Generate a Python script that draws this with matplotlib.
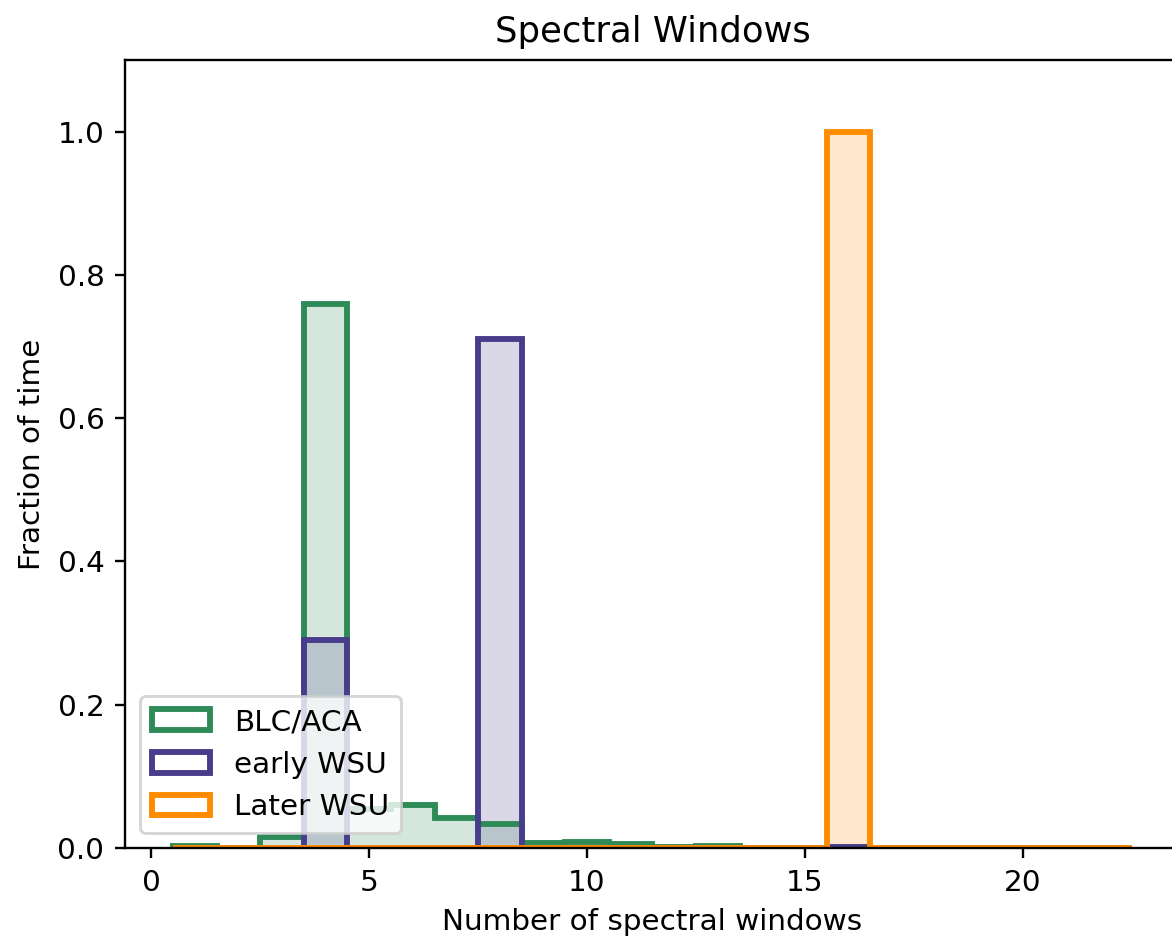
import numpy as np
import matplotlib
matplotlib.use("Agg")
import matplotlib.pyplot as plt

# fraction of time per number of spectral windows (1..22)
nspw = np.arange(1, 23)
blc_aca = [0.003, 0.0, 0.015, 0.76, 0.055, 0.06, 0.042, 0.034, 0.007, 0.009,
           0.006, 0.001, 0.003, 0.0, 0.0, 0.0, 0.0, 0.0, 0.0, 0.0, 0.0, 0.0]
early_wsu = [0.0, 0.0, 0.0, 0.29, 0.0, 0.0, 0.0, 0.71, 0.0, 0.0,
             0.0, 0.0, 0.0, 0.0, 0.0, 0.001, 0.0, 0.0, 0.0, 0.0, 0.0, 0.0]
later_wsu = [0.0, 0.0, 0.0, 0.0, 0.0, 0.0, 0.0, 0.0, 0.0, 0.0,
             0.0, 0.0, 0.0, 0.0, 0.0, 1.0, 0.0, 0.0, 0.0, 0.0, 0.0, 0.0]

bins = np.arange(0.5, 23.5, 1)

series = [(blc_aca, 'seagreen', 'BLC/ACA'),
          (early_wsu, 'darkslateblue', 'early WSU'),
          (later_wsu, 'darkorange', 'Later WSU')]

dpi = 212
fig = plt.figure(figsize=(1172 / dpi, 937 / dpi), dpi=dpi)
ax = fig.add_axes([0.1067, 0.095, 0.9, 0.841])

for vals, col, lab in series:
    ax.hist(nspw, bins=bins, weights=vals, histtype='step', lw=2, color=col, label=lab)
    ax.hist(nspw, bins=bins, weights=vals, alpha=0.2, color=col)

ax.set_ylim(0, 1.1)
ax.set_xticks([0, 5, 10, 15, 20])
ax.set_title('Spectral Windows')
ax.set_xlabel('Number of spectral windows')
ax.set_ylabel('Fraction of time')
ax.legend(loc='lower left')

fig.savefig('out.png', dpi=dpi)
